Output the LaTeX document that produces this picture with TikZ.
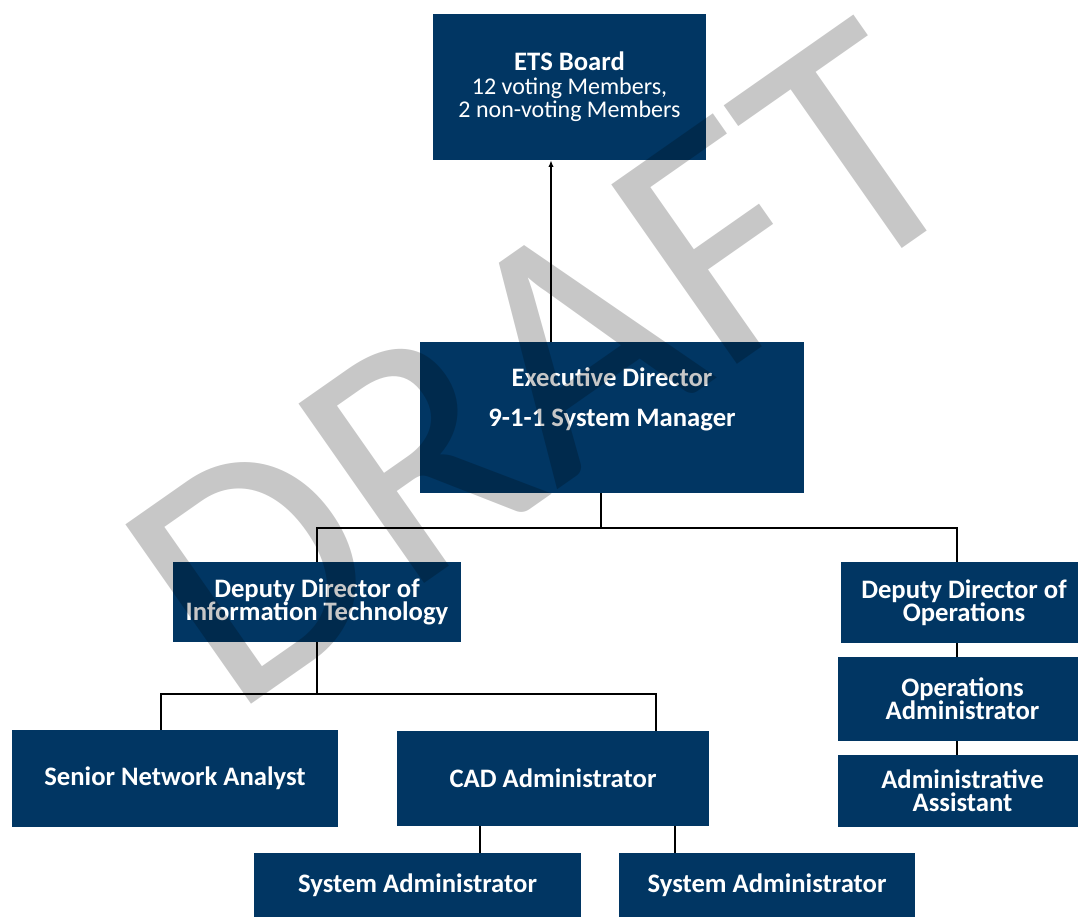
\documentclass[tikz,border=0pt]{standalone}
\usepackage{fontspec}
\setmainfont{Carlito}
\usetikzlibrary{arrows.meta}
\definecolor{navy}{RGB}{1,54,99}
\newcommand\pu{*0.75pt}

\begin{document}
\begin{tikzpicture}[x=0.75pt, y=-0.75pt,
		box/.style={fill=navy, text=white, align=center, inner sep=0pt,
			font=\bfseries\fontsize{20}{17.5}\selectfont},
		link/.style={draw=black, line width=1.1pt}]
		\useasboundingbox (0,0) rectangle (1078,918);
		\clip (0,0) rectangle (1078,918);

		% boxes
		\node[box, minimum width=273\pu, minimum height=146\pu] (board) at (569.5,87)
			{ETS Board\\{\mdseries\fontsize{18}{17}\selectfont 12 voting Members,}\\
			{\mdseries\fontsize{18}{17}\selectfont 2 non-voting Members}};
		\node[box, minimum width=384\pu, minimum height=151\pu] (exec) at (612,417.5)
			{Executive Director\\[12.5pt]9-1-1 System Manager\\[12.5pt]\mbox{}};
		\node[box, minimum width=288\pu, minimum height=80\pu] (depit) at (317,602)
			{Deputy Director of\\Information Technology};
		\node[box, minimum width=246\pu, minimum height=81\pu] (depops) at (964,602.5)
			{Deputy Director of\\Operations};
		\node[box, minimum width=249\pu, minimum height=84\pu] (opsadm) at (962.5,699)
			{Operations\\Administrator};
		\node[box, minimum width=249\pu, minimum height=72\pu] (asst) at (962.5,791)
			{Administrative\\Assistant};
		\node[box, minimum width=326\pu, minimum height=97\pu] (sna) at (175,778.5)
			{Senior Network Analyst};
		\node[box, minimum width=312\pu, minimum height=95\pu] (cad) at (553,778.5)
			{CAD Administrator};
		\node[box, minimum width=327\pu, minimum height=64\pu] (sysA) at (417.5,885)
			{System Administrator};
		\node[box, minimum width=296\pu, minimum height=64\pu] (sysB) at (767,885)
			{System Administrator};

		% where the lines run
		\coordinate (upx) at (551,0);
		\coordinate (upM) at (601,528);
		\coordinate (upR) at (957,528);
		\coordinate (loL) at (161,694);
		\coordinate (loR) at (656,694);
		\coordinate (saA) at (480,0);
		\coordinate (saB) at (675,0);

		\draw[link, -{Latex[length=5pt,width=4pt]}] (exec.north -| upx) -- (board.south -| upx);
		\draw[link] (exec.south -| upM) -- (upM);
		\draw[link] (depit.north) |- (upR) -- (depops.north -| upR);
		\draw[link] (depit.south) -- (depit.south |- loL);
		\draw[link] (sna.north -| loL) -- (loL) -- (loR) -- (cad.north -| loR);
		\draw[link] (cad.south -| saA) -- (sysA.north -| saA);
		\draw[link] (cad.south -| saB) -- (sysB.north -| saB);
		\draw[link] (depops.south -| upR) -- (opsadm.north -| upR);
		\draw[link] (opsadm.south -| upR) -- (asst.north -| upR);

		% watermark on top
		\node[rotate=35, anchor=base, text=black, text opacity=0.22, inner sep=0pt,
			font=\fontsize{256}{256}\selectfont] (draft) at (608,455) {DRAFT};
	\end{tikzpicture}
\end{document}
